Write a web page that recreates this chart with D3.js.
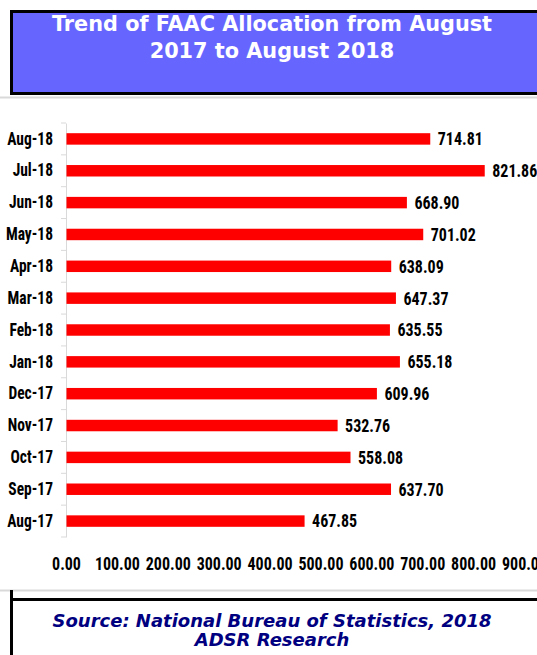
<!DOCTYPE html>
<html>
<head>
<meta charset="utf-8">
<script src="https://cdn.jsdelivr.net/npm/d3@7"></script>
<style>
  body { margin: 0; background: #ffffff; }
  svg { display: block; }
</style>
</head>
<body>
<div id="chart"></div>
<script>
// DATA
var months = ["Aug-18", "Jul-18", "Jun-18", "May-18", "Apr-18", "Mar-18", "Feb-18",
              "Jan-18", "Dec-17", "Nov-17", "Oct-17", "Sep-17", "Aug-17"];
var allocation = [714.81, 821.86, 668.90, 701.02, 638.09, 647.37, 635.55,
                  655.18, 609.96, 532.76, 558.08, 637.70, 467.85];
var xTicks = [0, 100, 200, 300, 400, 500, 600, 700, 800, 900];
var titleLines = ["Trend of FAAC Allocation from August", "2017 to August 2018"];
var sourceLines = ["Source: National Bureau of Statistics, 2018", "ADSR Research"];

// COLORS and FONTS
var W = 537, H = 655;
var narrow = "'Liberation Sans Narrow','Arial Narrow','Roboto Condensed',sans-serif";
var verdana = "'DejaVu Sans',Verdana,sans-serif";
var barColor = "#ff0000";
var headBgnd = "#6666ff";
var sourceColor = "#000080";
var tall = "scale(1,1.14)";  // labels in the picture are taller than Arial Narrow

var svg = d3.select("#chart").append("svg")
  .attr("width", W)
  .attr("height", H);

// header box
svg.append("rect")
  .attr("x", 11.5).attr("y", 11.5)
  .attr("width", W + 10).attr("height", 82)
  .attr("fill", headBgnd)
  .attr("stroke", "#000").attr("stroke-width", 3);

svg.selectAll(".title")
  .data(titleLines)
  .enter().append("text")
  .attr("class", "title")
  .attr("x", 272)
  .attr("y", function(d, i) { return 31 + i * 27; })
  .attr("text-anchor", "middle")
  .attr("font-family", verdana)
  .attr("font-weight", "bold")
  .attr("font-size", 20.8)
  .attr("fill", "#ffffff")
  .text(function(d) { return d; });

svg.append("line")
  .attr("x1", 0).attr("x2", W)
  .attr("y1", 97.5).attr("y2", 97.5)
  .attr("stroke", "#d9d9d9").attr("stroke-width", 2);

// scales
var x = d3.scaleLinear().domain([0, 900]).range([66, 524]);
var y = d3.scaleBand().domain(months).range([123, 537])
  .paddingInner(0.64).paddingOuter(0.32);

// category axis
var yAxis = svg.append("g")
  .attr("transform", "translate(66,0)")
  .call(d3.axisLeft(y).tickSize(0).tickPadding(13));
yAxis.select(".domain").attr("stroke", "#d9d9d9");
yAxis.selectAll("text")
  .attr("font-family", narrow)
  .attr("font-weight", "bold")
  .attr("font-size", 15.5)
  .attr("fill", "#000")
  .attr("transform", tall);

// boundary tick marks
var bounds = months.map(function(m) { return y(m) + y.bandwidth() / 2 - y.step() / 2; });
bounds.push(bounds[bounds.length - 1] + y.step());
svg.selectAll(".btick")
  .data(bounds)
  .enter().append("line")
  .attr("class", "btick")
  .attr("x1", 61).attr("x2", 66)
  .attr("y1", function(d) { return d; })
  .attr("y2", function(d) { return d; })
  .attr("stroke", "#d9d9d9");

// bars
svg.selectAll(".bar")
  .data(allocation)
  .enter().append("rect")
  .attr("class", "bar")
  .attr("x", x(0) + 0.5)
  .attr("y", function(d, i) { return y(months[i]); })
  .attr("width", function(d) { return x(d) - x(0); })
  .attr("height", y.bandwidth())
  .attr("fill", barColor);

// value labels
svg.selectAll(".val")
  .data(allocation)
  .enter().append("text")
  .attr("class", "val")
  .attr("transform", function(d, i) {
    return "translate(" + (x(d) + 8) + "," + (y(months[i]) + y.bandwidth() / 2) + ") " + tall;
  })
  .attr("dy", ".35em")
  .attr("font-family", narrow)
  .attr("font-weight", "bold")
  .attr("font-size", 16)
  .attr("fill", "#000")
  .text(function(d) { return d.toFixed(2); });

// value axis
var xAxis = svg.append("g")
  .attr("transform", "translate(0,550)")
  .call(d3.axisBottom(x).tickValues(xTicks).tickSize(0).tickPadding(6)
    .tickFormat(d3.format(".2f")));
xAxis.select(".domain").remove();
xAxis.selectAll("text")
  .attr("font-family", narrow)
  .attr("font-weight", "bold")
  .attr("font-size", 16)
  .attr("fill", "#000")
  .attr("transform", tall);

// source box
svg.append("line")
  .attr("x1", 0).attr("x2", W)
  .attr("y1", 590.5).attr("y2", 590.5)
  .attr("stroke", "#d9d9d9").attr("stroke-width", 2);

svg.append("rect")
  .attr("x", 11.5).attr("y", 599.5)
  .attr("width", W + 10).attr("height", 80)
  .attr("fill", "#ffffff")
  .attr("stroke", "#000").attr("stroke-width", 3);
svg.append("line")
  .attr("x1", 11.5).attr("x2", 11.5)
  .attr("y1", 590).attr("y2", H)
  .attr("stroke", "#000").attr("stroke-width", 3);

svg.selectAll(".src")
  .data(sourceLines)
  .enter().append("text")
  .attr("class", "src")
  .attr("x", 272)
  .attr("y", function(d, i) { return 627 + i * 19; })
  .attr("text-anchor", "middle")
  .attr("font-family", verdana)
  .attr("font-weight", "bold")
  .attr("font-style", "italic")
  .attr("font-size", 18)
  .attr("fill", sourceColor)
  .text(function(d) { return d; });
</script>
</body>
</html>
